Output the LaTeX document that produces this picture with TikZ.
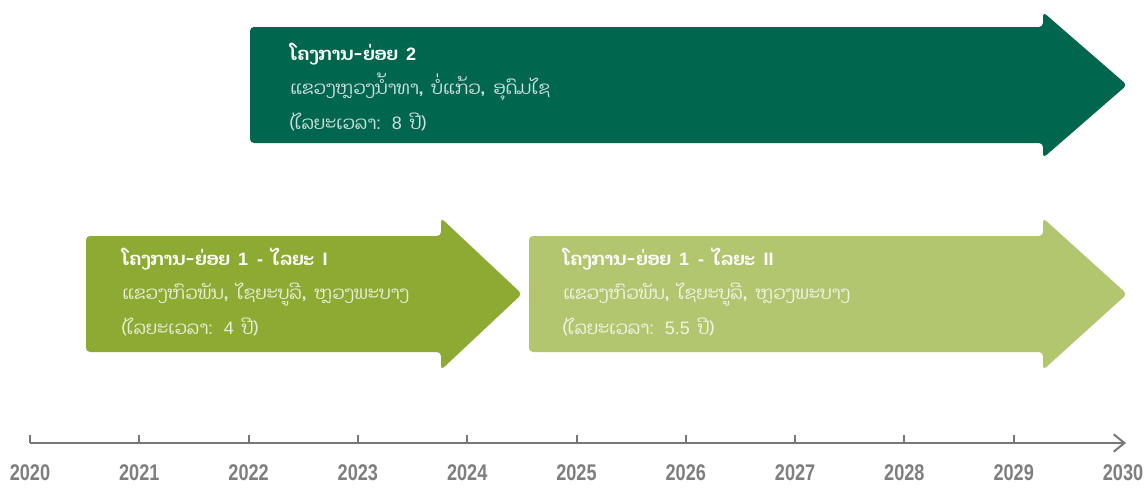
\documentclass[tikz,border=0pt]{standalone}
\usepackage{fontspec}
\newfontfamily\laofont[Script=Lao,WordSpace=1.8]{Dhyana}
\newfontfamily\latfont[WordSpace=1.8]{Liberation Sans}
\newfontfamily\yearfont[FakeStretch=0.8]{Liberation Sans}
\newcommand\lat[1]{{\latfont #1}}
\usetikzlibrary{arrows.meta}
\definecolor{darkgreen}{HTML}{00664E}
\definecolor{olivegreen}{HTML}{8DAA32}
\definecolor{palegreen}{HTML}{B2C56F}
\definecolor{axisgrey}{HTML}{777777}
\tikzset{
  phase/.style={
    % The shape:
    rounded corners=3pt,
    % The filling:
    fill=#1,
    draw=none},
  phase text/.style={
    % The position:
    anchor=west,align=left,inner sep=0pt,
    % The text:
    font=\laofont\fontsize{13.5}{26}\selectfont,
    text=white!80!#1},
  year/.style={
    font=\yearfont\bfseries\fontsize{17}{17}\selectfont,
    text=axisgrey!95}
}

\begin{document}
\begin{tikzpicture}[x=0.75pt,y=-0.75pt,
                    axis/.style={draw=axisgrey,line width=1.5pt},
                    >={Straight Barb[length=8pt,width=13pt]}]
  \useasboundingbox (0,0) rectangle (1147,487);

  % sub-project 2
  \fill[phase=darkgreen] (250,27) -- (1043,27) -- (1043,12) -- (1127,85)
    -- (1043,158) -- (1043,143) -- (250,143) -- cycle;
  \node (sub2) [phase text=darkgreen] at (290,87)
    {{\color{white}\bfseries ໂຄງການ-ຍ່ອຍ \lat{2}}\\
     ແຂວງຫຼວງນ້ຳທາ, ບໍ່ແກ້ວ, ອຸດົມໄຊ\\
     (ໄລຍະເວລາ\lat{: 8} ປີ)};

  % sub-project 1, phase I
  \fill[phase=olivegreen] (86,236) -- (441,236) -- (441,218) -- (522,294)
    -- (441,370) -- (441,352) -- (86,352) -- cycle;
  \node (sub1a) [phase text=olivegreen] at (122,292)
    {{\color{white}\bfseries ໂຄງການ-ຍ່ອຍ \lat{1 - }ໄລຍະ \lat{I}}\\
     ແຂວງຫົວພັນ, ໄຊຍະບູລີ, ຫຼວງພະບາງ\\
     (ໄລຍະເວລາ\lat{: 4} ປີ)};

  % sub-project 1, phase II
  \fill[phase=palegreen] (529,236) -- (1043,236) -- (1043,218) -- (1127,294)
    -- (1043,370) -- (1043,352) -- (529,352) -- cycle;
  \node (sub1b) [phase text=palegreen] at (563,292)
    {{\color{white}\bfseries ໂຄງການ-ຍ່ອຍ \lat{1 - }ໄລຍະ \lat{II}}\\
     ແຂວງຫົວພັນ, ໄຊຍະບູລີ, ຫຼວງພະບາງ\\
     (ໄລຍະເວລາ\lat{: 5.5} ປີ)};

  % time axis
  \coordinate (axis start) at (30,443);
  \coordinate (axis end) at (1126,443);
  \draw[axis,->] (axis start) -- (axis end);
  \foreach \yr [count=\i from 0] in {2020,...,2029} {
    \coordinate (t\yr) at ({30+109.3*\i},443);
    \draw[axis] (t\yr) -- ++(0,-8);
  }
  \foreach \yr [count=\i from 0] in {2020,...,2030}
    \node (y\yr) [year] at ({30+109.3*\i},473) {\yr};
\end{tikzpicture}
\end{document}
